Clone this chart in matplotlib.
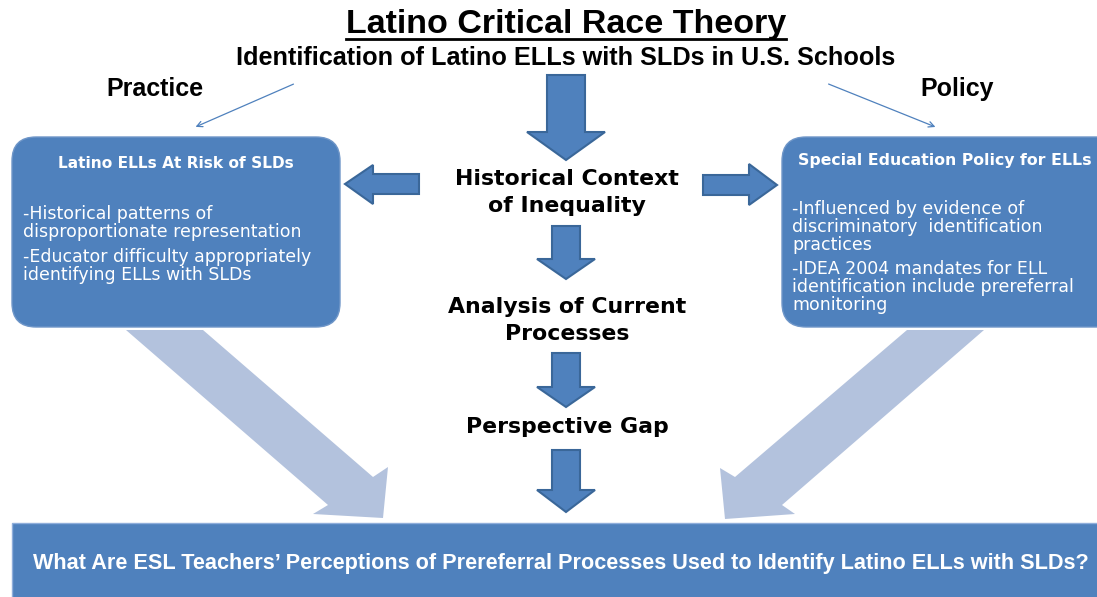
import matplotlib.pyplot as plt
from matplotlib.patches import Polygon, FancyBboxPatch, Rectangle

# =========================
# Texts
# =========================
titulo = "Latino Critical Race Theory"
subtitulo = "Identification of Latino ELLs with SLDs in U.S. Schools"
etiqueta_izq = "Practice"
etiqueta_der = "Policy"

caja_izq_titulo = "Latino ELLs At Risk of SLDs"
caja_izq_lineas = ["-Historical patterns of", "disproportionate representation",
                   "-Educator difficulty appropriately", "identifying ELLs with SLDs"]
caja_izq_y = [214, 232, 257, 275]

caja_der_titulo = "Special Education Policy for ELLs"
caja_der_lineas = ["-Influenced by evidence of", "discriminatory  identification", "practices",
                   "-IDEA 2004 mandates for ELL", "identification include prereferral", "monitoring"]
caja_der_y = [209, 227, 245, 269, 287, 305]

pasos_centro = ["Historical Context", "of Inequality", "Analysis of Current", "Processes",
                "Perspective Gap"]
pasos_y = [179, 206, 307, 334, 427]

pregunta = "What Are ESL Teachers\u2019 Perceptions of Prereferral Processes Used to Identify Latino ELLs with SLDs?"

# flechas hacia abajo: (y superior, y base cabeza, y punta, semiancho cuerpo, semiancho cabeza)
flechas_abajo = [(75, 132, 160, 19, 39), (226, 259, 279, 14, 29),
                 (353, 387, 407, 14, 29), (450, 490, 512, 14, 29)]

# flechas grandes claras (vertices)
flecha_clara_izq = [(126, 330), (203, 330), (373, 477), (388, 467), (383, 518),
                    (313, 514), (328, 505)]
flecha_clara_der = [(907, 330), (984, 330), (782, 505), (795, 514), (725, 519),
                    (720, 468), (735, 477)]

azul = "#4F81BD"
azul_borde = "#3A6799"
azul_claro = "#B3C2DD"

sans_narrow = ["Liberation Sans Narrow", "Liberation Sans", "DejaVu Sans"]

fig = plt.figure(figsize=(10.97, 5.97), dpi=100)
ax = fig.add_axes([0, 0, 1, 1])
ax.set_xlim(0, 1097)
ax.set_ylim(597, 0)
ax.axis("off")

# Titulos
t = ax.text(566, 24, titulo, ha="center", va="center", fontsize=24.5, fontweight="bold",
            family=sans_narrow)
ax.text(566, 58, subtitulo, ha="center", va="center", fontsize=18.2, fontweight="bold",
        family=sans_narrow)
ax.text(155, 89, etiqueta_izq, ha="center", va="center", fontsize=18, fontweight="bold",
        family=sans_narrow)
ax.text(957, 89, etiqueta_der, ha="center", va="center", fontsize=18, fontweight="bold",
        family=sans_narrow)

# subrayado del titulo
fig.canvas.draw()
bb = t.get_window_extent().transformed(ax.transData.inverted())
ax.plot([bb.x0, bb.x1], [39, 39], color="black", lw=2)

# flechas finas
ax.annotate("", xy=(193, 128), xytext=(296, 83),
            arrowprops=dict(arrowstyle="->", color=azul, lw=0.9))
ax.annotate("", xy=(938, 128), xytext=(826, 83),
            arrowprops=dict(arrowstyle="->", color=azul, lw=0.9))

# flechas claras grandes
ax.add_patch(Polygon(flecha_clara_izq, closed=True, facecolor=azul_claro, edgecolor="none", zorder=1))
ax.add_patch(Polygon(flecha_clara_der, closed=True, facecolor=azul_claro, edgecolor="none", zorder=1))

# cajas
ax.add_patch(FancyBboxPatch((12, 137), 328, 190, boxstyle="round,pad=0,rounding_size=24",
                            facecolor=azul, edgecolor="#6F96C8", lw=1, zorder=2))
ax.add_patch(FancyBboxPatch((782, 137), 340, 190, boxstyle="round,pad=0,rounding_size=24",
                            facecolor=azul, edgecolor="#6F96C8", lw=1, zorder=2))

ax.text(176, 164, caja_izq_titulo, ha="center", va="center", color="white", fontsize=11.1,
        fontweight="bold", zorder=3)
for linea, y in zip(caja_izq_lineas, caja_izq_y):
    ax.text(23, y, linea, ha="left", va="center", color="white", fontsize=12.5, zorder=3)

ax.text(945, 160, caja_der_titulo, ha="center", va="center", color="white", fontsize=11.3,
        fontweight="bold", zorder=3)
for linea, y in zip(caja_der_lineas, caja_der_y):
    ax.text(792, y, linea, ha="left", va="center", color="white", fontsize=12.5, zorder=3)

# flechas centrales
cx = 566
for y0, yb, yt, sw, hw in flechas_abajo:
    pts = [(cx - sw, y0), (cx + sw, y0), (cx + sw, yb), (cx + hw, yb), (cx, yt),
           (cx - hw, yb), (cx - sw, yb)]
    ax.add_patch(Polygon(pts, closed=True, facecolor=azul, edgecolor=azul_borde, lw=1.5, zorder=3))

# flechas laterales
izq = [(419, 174), (419, 194), (373, 194), (373, 204), (345, 184), (373, 165), (373, 174)]
der = [(703, 175), (703, 195), (749, 195), (749, 205), (777, 185), (749, 164), (749, 175)]
ax.add_patch(Polygon(izq, closed=True, facecolor=azul, edgecolor=azul_borde, lw=1.5, zorder=3))
ax.add_patch(Polygon(der, closed=True, facecolor=azul, edgecolor=azul_borde, lw=1.5, zorder=3))

for texto, y in zip(pasos_centro, pasos_y):
    ax.text(567, y, texto, ha="center", va="center", fontsize=15.8, fontweight="bold", zorder=3)

# caja inferior
ax.add_patch(Rectangle((12, 523), 1100, 80, facecolor=azul, edgecolor="#8FAEDB", lw=1, zorder=4))
ax.text(561, 563, pregunta, ha="center", va="center", color="white", fontsize=15.6,
        fontweight="bold", family=sans_narrow, zorder=5)

fig.savefig("out.png", dpi=100)
